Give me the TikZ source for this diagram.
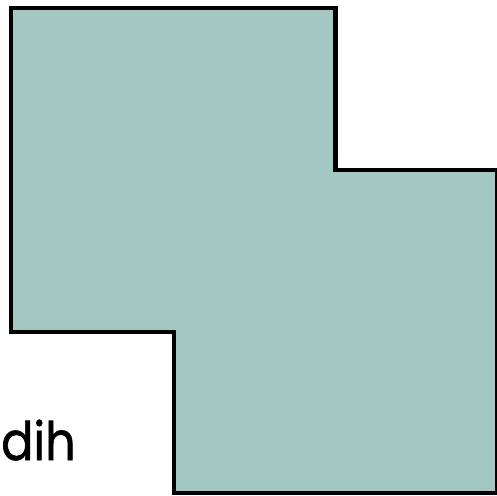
\documentclass[tikz,border=0pt]{standalone}
\usepackage{fontspec}
\setmainfont{Poppins}[FakeBold=1.2]
\usetikzlibrary{positioning}
\definecolor{tile}{RGB}{163,199,195}
\tikzset{
  blk/.style={draw=black,fill=tile,line width=4.5pt,line join=miter},
  lbl/.style={font=\fontsize{53}{60}\selectfont,inner sep=0pt,anchor=base west,xscale=0.9},
}
\begin{document}
\begin{tikzpicture}[x=1pt,y=1pt]
\useasboundingbox (0,0) rectangle (497,495);
% three cells of about 162 units, pixel rows counted from the top
\draw[blk] (11,487) -- (335.5,487) -- (335.5,325) -- (497,325)
  -- (497,2) -- (174,2) -- (174,163) -- (11,163) -- cycle;
\node[lbl] (name) at (1,35) {dih};
\end{tikzpicture}
\end{document}
